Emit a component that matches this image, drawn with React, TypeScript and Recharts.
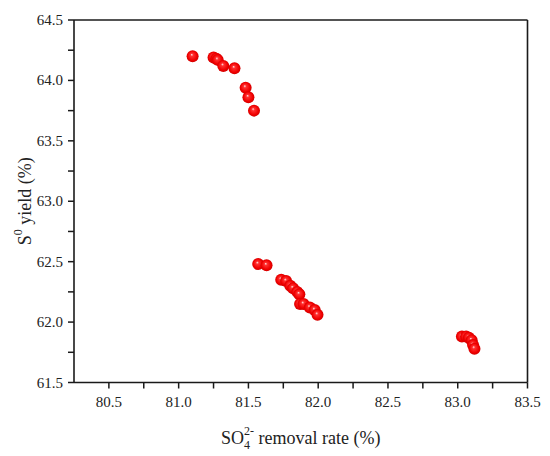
import React from 'react';
import { ScatterChart, Scatter, XAxis, YAxis, ReferenceLine } from 'recharts';

// SO4 2- removal rate (%) vs S0 yield (%)
const removalRate = [
  81.1, 81.25, 81.27, 81.28, 81.32, 81.4, 81.48, 81.5, 81.54,
  81.57, 81.63, 81.735, 81.77, 81.8, 81.82, 81.85, 81.865, 81.87, 81.895, 81.94, 81.975, 81.995,
  83.03, 83.06, 83.08, 83.1, 83.11, 83.12,
];
const sulfurYield = [
  64.2, 64.19, 64.18, 64.17, 64.12, 64.1, 63.94, 63.86, 63.75,
  62.48, 62.47, 62.35, 62.34, 62.3, 62.28, 62.25, 62.23, 62.15, 62.15, 62.12, 62.1, 62.06,
  61.88, 61.88, 61.87, 61.85, 61.81, 61.78,
];

const xMajor = [80.5, 81.0, 81.5, 82.0, 82.5, 83.0, 83.5];
const xMinor = [80.75, 81.25, 81.75, 82.25, 82.75, 83.25];
const yMajor = [61.5, 62.0, 62.5, 63.0, 63.5, 64.0, 64.5];
const yMinor = [61.75, 62.25, 62.75, 63.25, 63.75, 64.25];

const points = removalRate.map((x, i) => ({ x, y: sulfurYield[i] }));

const FONT = 'Liberation Serif';
const AXIS = '#1a1a1a';

const XTick = (props: any) => {
  const { x, y, payload } = props;
  if (!xMajor.includes(payload.value)) return <g />;
  return (
    <text x={x} y={y + 14} textAnchor="middle" fontFamily={FONT} fontSize={15} fill="#222">
      {payload.value.toFixed(1)}
    </text>
  );
};

const YTick = (props: any) => {
  const { x, y, payload } = props;
  if (!yMajor.includes(payload.value)) return <g />;
  return (
    <text x={x} y={y + 5} textAnchor="end" fontFamily={FONT} fontSize={15} fill="#222">
      {payload.value.toFixed(1)}
    </text>
  );
};

const Ball = (props: any) => {
  const { cx, cy } = props;
  return <circle cx={cx} cy={cy} r={6} fill="url(#ball)" />;
};

const XTitle = (props: any) => {
  const { x, y, width } = props.viewBox;
  return (
    <text x={x + width / 2} y={y + 61} textAnchor="middle" fontFamily={FONT} fontSize={18} fill="#222">
      SO
      <tspan dy={5} fontSize={12}>4</tspan>
      <tspan dx={-6} dy={-14} fontSize={12}>2-</tspan>
      <tspan dy={9}> removal rate (%)</tspan>
    </text>
  );
};

const YTitle = (props: any) => {
  const { y, height } = props.viewBox;
  const cx = 25;
  const cy = y + height / 2;
  return (
    <text
      x={cx}
      y={cy}
      transform={`rotate(-90 ${cx} ${cy})`}
      textAnchor="middle"
      dominantBaseline="central"
      fontFamily={FONT}
      fontSize={18}
      fill="#222"
    >
      S
      <tspan dy={-7} fontSize={12}>0</tspan>
      <tspan dy={7}> yield (%)</tspan>
    </text>
  );
};

export default function App() {
  return (
    <div style={{ position: 'absolute', left: 0, top: 0, background: '#fff' }}>
      <ScatterChart width={550} height={456} margin={{ top: 20, right: 22.5, bottom: 43.5, left: 0 }}>
        <defs>
          <radialGradient id="ball" cx="50%" cy="50%" r="55%" fx="42%" fy="36%">
            <stop offset="0%" stopColor="#ffe6e6" />
            <stop offset="22%" stopColor="#ff3030" />
            <stop offset="70%" stopColor="#f00000" />
            <stop offset="100%" stopColor="#c80000" />
          </radialGradient>
        </defs>
        <XAxis
          type="number"
          dataKey="x"
          domain={[80.25, 83.5]}
          ticks={[...xMajor, ...xMinor]}
          interval={0}
          height={30}
          tickSize={6}
          tickMargin={4}
          tickLine={{ stroke: AXIS, strokeWidth: 1.5 }}
          tick={<XTick />}
          axisLine={{ stroke: AXIS, strokeWidth: 1.6 }}
          allowDataOverflow
          label={<XTitle />}
        />
        <YAxis
          type="number"
          dataKey="y"
          domain={[61.5, 64.5]}
          ticks={[...yMajor, ...yMinor]}
          interval={0}
          width={74}
          tickSize={6}
          tickMargin={5}
          tickLine={{ stroke: AXIS, strokeWidth: 1.5 }}
          tick={<YTick />}
          axisLine={{ stroke: AXIS, strokeWidth: 1.6 }}
          allowDataOverflow
          label={<YTitle />}
        />
        <ReferenceLine y={64.5} stroke={AXIS} strokeWidth={1.6} />
        <ReferenceLine x={83.5} stroke={AXIS} strokeWidth={1.6} />
        <Scatter data={points} shape={<Ball />} isAnimationActive={false} />
      </ScatterChart>
    </div>
  );
}
